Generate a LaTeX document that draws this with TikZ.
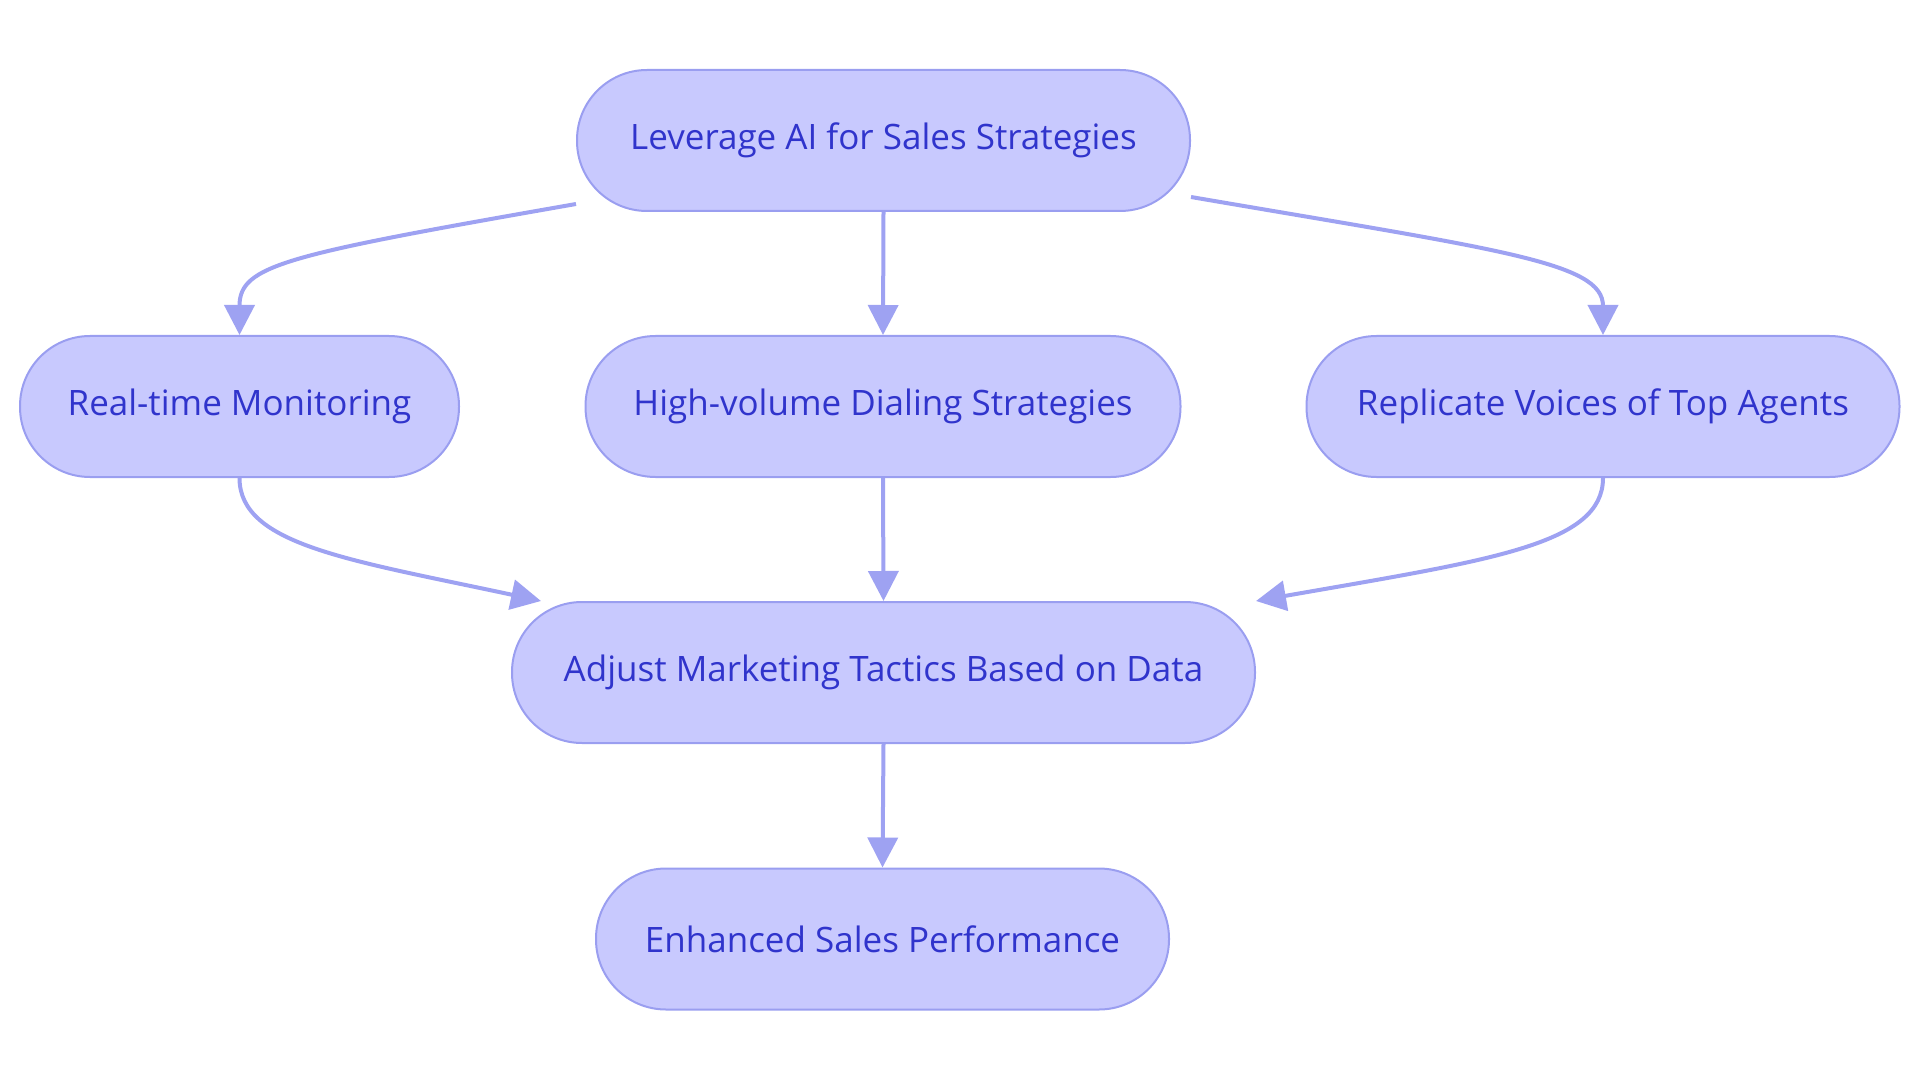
\documentclass[tikz,border=0pt]{standalone}
\usepackage{fontspec}
\setmainfont{Open Sans}
\usetikzlibrary{arrows.meta}
\definecolor{nodefill}{HTML}{C8C9FE}
\definecolor{nodeline}{HTML}{9A9EF0}
\definecolor{edgeline}{HTML}{9EA2F2}
\definecolor{txt}{HTML}{3034CC}
\begin{document}
\begin{tikzpicture}[x=1pt,y=-1pt,
  box/.style={draw=nodeline, fill=nodefill, line width=2pt, rounded corners=70pt,
    minimum height=141pt, inner sep=0pt, text=txt, font=\fontsize{35}{42}\selectfont},
  conn/.style={draw=edgeline, line width=4pt, -{Triangle[width=30pt,length=30pt]}}]
\useasboundingbox (0,0) rectangle (1920,1083);
\node[box, minimum width=613pt] (top) at (883.5,140.5) {Leverage AI for Sales Strategies};
\node[box, minimum width=439pt] (rtm) at (239.5,406.5) {Real-time Monitoring};
\node[box, minimum width=595pt] (hvd) at (883,406.5) {High-volume Dialing Strategies};
\node[box, minimum width=593pt] (rep) at (1603,406.5) {Replicate Voices of Top Agents};
\node[box, minimum width=743pt] (adj) at (883.5,672.5) {Adjust Marketing Tactics Based on Data};
\node[box, minimum width=573pt] (enh) at (882.5,939) {Enhanced Sales Performance};
\coordinate (adjL) at ([xshift=30pt]adj.north west);
\coordinate (adjR) at (adj.north east);
\draw[conn] ([yshift=8pt]top.south west) .. controls (285,255) and (rtm.north |- 0,265) .. (rtm.north);
\draw[conn] (top.south) -- (hvd.north);
\draw[conn] ([yshift=15pt]top.south east) .. controls (1500,250) and (rep.north |- 0,262) .. (rep.north);
\draw[conn] (rtm.south) .. controls (rtm.south |- 0,545) and (350,560) .. (adjL);
\draw[conn] (hvd.south) -- (adj.north);
\draw[conn] (rep.south) .. controls (rep.south |- 0,545) and (1490,560) .. (adjR);
\draw[conn] (adj.south) -- (enh.north);
\end{tikzpicture}
\end{document}
